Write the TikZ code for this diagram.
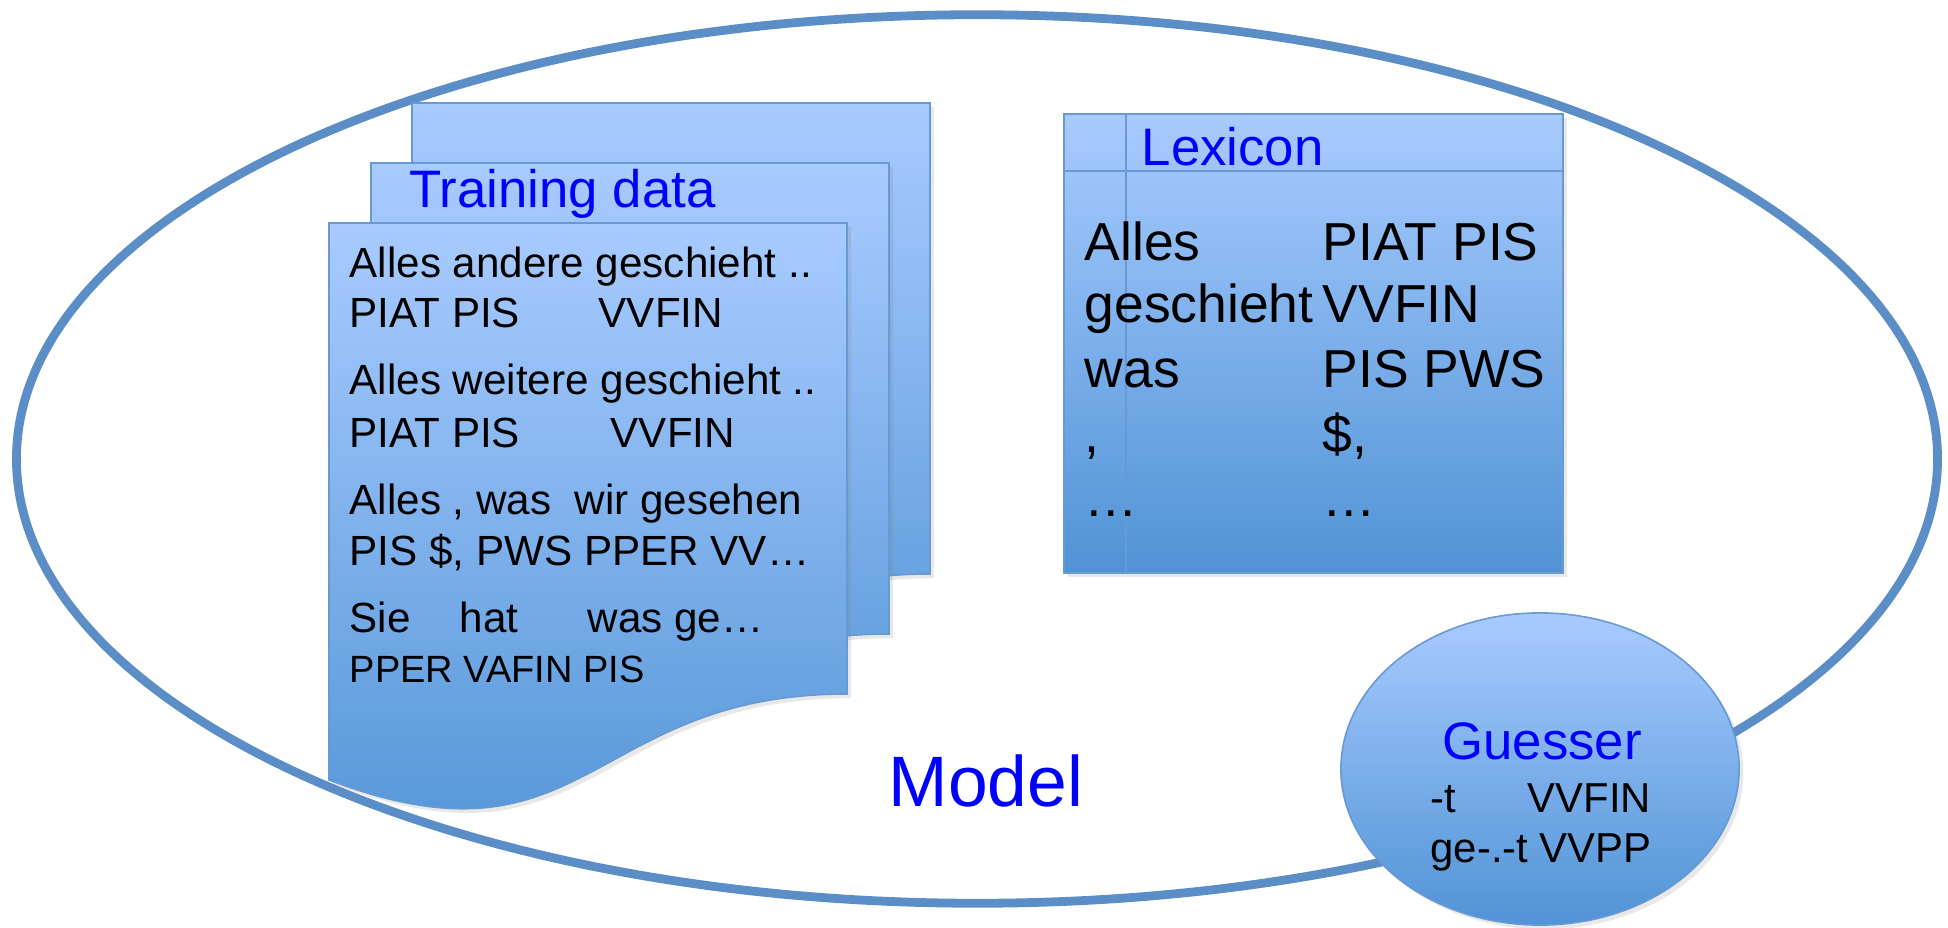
\documentclass[tikz,border=0pt]{standalone}
\usepackage{fontspec}
\setmainfont{Liberation Sans}
\usetikzlibrary{shapes.geometric, shadows}

\definecolor{ringblue}{RGB}{91,142,199}
\definecolor{lightfill}{RGB}{168,203,255}
\definecolor{darkfill}{RGB}{80,147,214}
\definecolor{edgeblue}{RGB}{104,153,210}

\begin{document}
\begin{tikzpicture}[x=0.01cm, y=-0.01cm,
    ring/.style={draw=ringblue, line width=2.5pt, ellipse, inner sep=0pt},
    page/.style={draw=edgeblue, line width=0.45pt, top color=lightfill, bottom color=darkfill,
        drop shadow={opacity=0.18, shadow xshift=1.2pt, shadow yshift=-1.2pt}},
    guess/.style={page, ellipse, inner sep=0pt, minimum width=3.98cm, minimum height=3.12cm},
    word/.style={anchor=base west, inner sep=0pt},
    title/.style={word, text=blue, font=\fontsize{15}{18}\selectfont},
    body/.style={word, font=\fontsize{12}{14}\selectfont},
    small/.style={word, font=\fontsize{10.8}{13}\selectfont},
    lex/.style={word, font=\fontsize{15.2}{18}\selectfont}
]
\useasboundingbox (0,0) rectangle (1948,928);

% outer model ellipse
\node[ring, minimum width=19.2cm, minimum height=8.88cm] (model) at (977,459) {};

% stack of training pages
\foreach \px/\py in {412/103, 371/163, 329/223} {
    \begin{scope}[shift={(\px,\py)}]
        \draw[page] (0,0) -- (518,0) -- (518,471)
            .. controls (259,471) and (259,655) .. (0,557) -- cycle;
    \end{scope}
}

% lexicon table
\draw[page] (1064,114) rectangle (1563,573);
\draw[edgeblue, line width=0.45pt] (1064,171) -- (1563,171);
\draw[edgeblue, line width=0.45pt] (1126,114) -- (1126,573);

% guesser
\node[guess] (guesser) at (1540,769) {};

% Labels
\node[title] (trainlbl) at (409,208) {Training data};
\node[title] (lexlbl) at (1141,166) {Lexicon};
\node[title, anchor=base] (guesslbl) at (1542,760) {Guesser};
\node[word, text=blue, font=\fontsize{20.3}{24}\selectfont] (modellbl) at (888,807) {Model};

% training sentences
\node[body] (s1) at (349,278) {Alles andere geschieht ..};
\node[body] (t1) at (349,328) {PIAT PIS};
\node[body] (t1v) at (598,328) {VVFIN};
\node[body] (s2) at (349,395) {Alles weitere geschieht ..};
\node[body] (t2) at (349,448) {PIAT PIS};
\node[body] (t2v) at (610,448) {VVFIN};
\node[body] (s3) at (349,515) {Alles , was\ \ wir gesehen};
\node[body] (t3) at (349,566) {PIS \$, PWS PPER VV…};
\node[body] (s4) at (349,633) {Sie};
\node[body] (s4b) at (459,633) {hat};
\node[body] (s4c) at (587,633) {was ge…};
\node[small] (t4) at (349,683) {PPER VAFIN PIS};

% lexicon entries
\node[lex] (w1) at (1084,261) {Alles};
\node[lex] (p1) at (1322,261) {PIAT PIS};
\node[lex] (w2) at (1084,323) {geschieht};
\node[lex] (p2) at (1322,323) {VVFIN};
\node[lex] (w3) at (1084,388) {was};
\node[lex] (p3) at (1322,388) {PIS PWS};
\node[lex] (w4) at (1084,453) {,};
\node[lex] (p4) at (1322,453) {\$,};
\node[lex] (w5) at (1084,517) {…};
\node[lex] (p5) at (1322,517) {…};

% guesser rules
\node[body, font=\fontsize{11.9}{14}\selectfont] (r1) at (1430,813) {-t};
\node[body, font=\fontsize{11.9}{14}\selectfont] (r1v) at (1527,813) {VVFIN};
\node[body, font=\fontsize{11.9}{14}\selectfont] (r2) at (1430,863) {ge-.-t VVPP};
\end{tikzpicture}
\end{document}
